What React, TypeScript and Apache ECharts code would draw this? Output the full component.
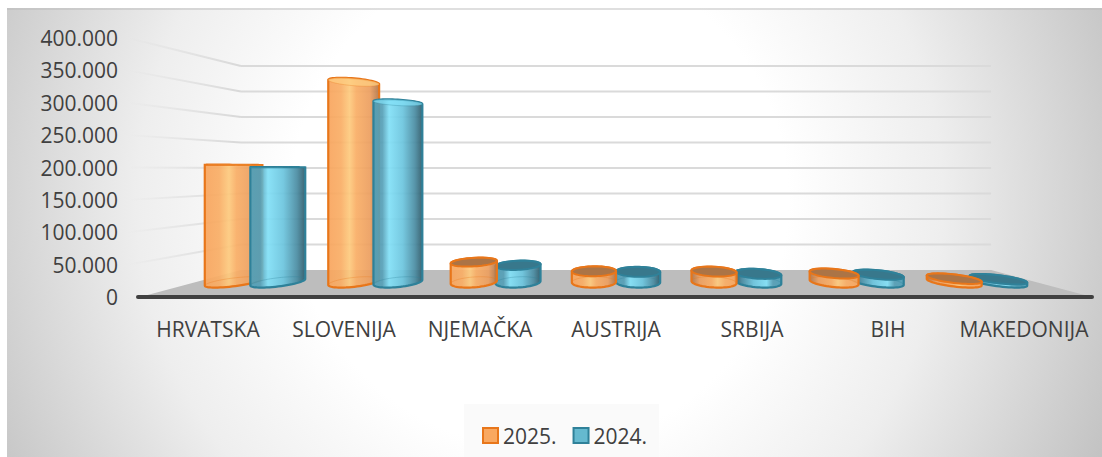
import React, { useEffect, useRef } from "react";
import * as echarts from "echarts";

const categories = ["HRVATSKA", "SLOVENIJA", "NJEMAČKA", "AUSTRIJA", "SRBIJA", "BIH", "MAKEDONIJA"];
const values2025 = [205000, 350000, 35000, 19000, 18500, 15000, 6000];
const values2024 = [201000, 314000, 29500, 18000, 14500, 13000, 5000];
const yMax = 400000;
const yStep = 50000;
const yTicks = [50000, 100000, 150000, 200000, 250000, 300000, 350000, 400000];

const FONT = "'Open Sans', sans-serif";
const VP = { x: 616, y: 170 };
const BACK_Z = 0.269;
const BAR_Z = 0.135;
const RADIUS = 25;
const DEPTH_K = 0.0022;

function project(x: number, y: number, z: number): number[] {
  const s = 1 / (1 + z);
  return [VP.x + (x - VP.x) * s, VP.y + (y - VP.y) * s];
}

function circle(cx: number, y: number): number[][] {
  const pts: number[][] = [];
  for (let i = 0; i < 60; i++) {
    const a = (i / 60) * Math.PI * 2;
    pts.push(project(cx + RADIUS * Math.cos(a), y, BAR_Z + RADIUS * DEPTH_K * Math.sin(a)));
  }
  return pts;
}

function hull(points: number[][]): number[][] {
  const p = [...points].sort((a, b) => a[0] - b[0] || a[1] - b[1]);
  const cross = (o: number[], a: number[], b: number[]) =>
    (a[0] - o[0]) * (b[1] - o[1]) - (a[1] - o[1]) * (b[0] - o[0]);
  const lower: number[][] = [];
  for (const q of p) {
    while (lower.length >= 2 && cross(lower[lower.length - 2], lower[lower.length - 1], q) <= 0) lower.pop();
    lower.push(q);
  }
  const upper: number[][] = [];
  for (let i = p.length - 1; i >= 0; i--) {
    const q = p[i];
    while (upper.length >= 2 && cross(upper[upper.length - 2], upper[upper.length - 1], q) <= 0) upper.pop();
    upper.push(q);
  }
  return lower.slice(0, -1).concat(upper.slice(0, -1));
}

const linear = (stops: [number, string][], mirror: boolean) => ({
  type: "linear",
  x: mirror ? 1 : 0,
  y: 0,
  x2: mirror ? 0 : 1,
  y2: 0,
  colorStops: stops.map(([offset, color]) => ({ offset, color })),
});

const looks = [
  {
    stroke: "#e8761a",
    stops: [
      [0, "#f8a55e"],
      [0.25, "#f9ae66"],
      [0.42, "#fdca7e"],
      [0.55, "#f9ae66"],
      [0.82, "#ec9f60"],
      [1, "#b0764a"],
    ] as [number, string][],
    topDark: "#ab7446",
    topLight: "rgba(254,205,130,0.75)",
    faint: "rgba(232,118,26,0.3)",
  },
  {
    stroke: "#2f8199",
    stops: [
      [0, "#4f9fb8"],
      [0.18, "#569fb6"],
      [0.32, "#82e0f7"],
      [0.6, "#6cc5de"],
      [0.85, "#4a8ca2"],
      [1, "#2f5b6a"],
    ] as [number, string][],
    topDark: "#38788c",
    topLight: "rgba(130,224,247,0.7)",
    faint: "rgba(47,129,153,0.3)",
  },
];

function makeBars(seriesIndex: number) {
  return (params: any, api: any) => {
    const idx = api.value(0);
    const band = api.size([1, 0])[0];
    const offset = seriesIndex === 0 ? -band * 0.184 : band * 0.184;
    const top = api.coord([idx, api.value(1)]);
    const base = api.coord([idx, 0]);
    const cx = base[0] + offset;
    const look = looks[seriesIndex];
    const z2 = seriesIndex === 1 ? 10 : idx <= 1 ? 5 : 15;
    const bottomPts = circle(cx, base[1]);
    const topPts = circle(cx, top[1]);
    const topCenterY = project(cx, top[1], BAR_Z)[1];
    const above = topCenterY < VP.y + 8;
    const outline = hull(bottomPts.concat(topPts));
    return {
      type: "group",
      children: [
        {
          type: "polygon",
          z2,
          silent: true,
          shape: { points: outline },
          style: { fill: linear(look.stops, idx >= 4), opacity: 0.93 },
        },
        {
          type: "polygon",
          z2,
          silent: true,
          shape: { points: outline },
          style: { fill: "rgba(0,0,0,0)", stroke: look.stroke, lineWidth: 2.2 },
        },
        {
          type: "polygon",
          z2,
          silent: true,
          shape: { points: bottomPts },
          style: { fill: "rgba(0,0,0,0)", stroke: look.faint, lineWidth: 1 },
        },
        {
          type: "polygon",
          z2,
          silent: true,
          shape: { points: topPts },
          style: {
            fill: above ? look.topLight : look.topDark,
            stroke: above ? look.faint : look.stroke,
            lineWidth: above ? 1 : 2,
          },
        },
      ],
    };
  };
}

function renderWalls(params: any, api: any) {
  const cs = params.coordSys;
  const y = api.coord([0, api.value(0)])[1];
  const front = [cs.x - 12, y];
  const backL = project(cs.x, y, BACK_Z);
  const backR = project(cs.x + cs.width, y, BACK_Z);
  return {
    type: "group",
    children: [
      {
        type: "line",
        silent: true,
        shape: { x1: backL[0], y1: backL[1], x2: backR[0], y2: backR[1] },
        style: { stroke: "#dadada", lineWidth: 2 },
      },
      {
        type: "line",
        silent: true,
        shape: { x1: project(cs.x - 12, y, 0)[0], y1: y, x2: backL[0], y2: backL[1] },
        style: {
          lineWidth: 2,
          stroke: {
            type: "linear",
            global: true,
            x: front[0],
            y: 0,
            x2: backL[0],
            y2: 0,
            colorStops: [
              { offset: 0, color: "rgba(215,215,215,0)" },
              { offset: 1, color: "#d8d8d8" },
            ],
          },
        },
      },
    ],
  };
}

function renderFloor(params: any, api: any) {
  const cs = params.coordSys;
  const yb = cs.y + cs.height;
  const fl = [cs.x, yb];
  const fr = [cs.x + cs.width, yb];
  const bl = project(cs.x, yb, BACK_Z);
  const br = project(cs.x + cs.width, yb, BACK_Z);
  return {
    type: "group",
    children: [
      {
        type: "polygon",
        silent: true,
        shape: { points: [fl, bl, br, fr] },
        style: { fill: "#bdbdbd" },
      },
      {
        type: "line",
        silent: true,
        shape: { x1: cs.x - 2, y1: yb, x2: cs.x + cs.width, y2: yb },
        style: { stroke: "#404040", lineWidth: 4, lineCap: "round" },
      },
    ],
  };
}

const thousands = (v: number) =>
  v === 0 ? "0" : String(v).replace(/\B(?=(\d{3})+(?!\d))/g, ".");

export default function App() {
  const ref = useRef<HTMLDivElement>(null);
  useEffect(() => {
    document.body.style.margin = "0";
    const chart = echarts.init(ref.current!, undefined, { renderer: "svg" });
    const barData = (vals: number[]) => vals.map((v, i) => [i, v]);
    chart.setOption({
      animation: false,
      textStyle: { fontFamily: FONT },
      graphic: [
        {
          type: "rect",
          z: -10,
          silent: true,
          shape: { x: 7, y: 8, width: 1095, height: 449 },
          style: {
            fill: {
              type: "radial",
              global: true,
              x: 540,
              y: 200,
              r: 620,
              colorStops: [
                { offset: 0, color: "#ffffff" },
                { offset: 0.4, color: "#ffffff" },
                { offset: 0.65, color: "#eeeeee" },
                { offset: 1, color: "#c2c2c2" },
              ],
            },
          },
        },
        {
          type: "rect",
          z: -9,
          silent: true,
          shape: { x: 7, y: 8, width: 1095, height: 2 },
          style: { fill: "#b9b9b9", opacity: 0.45 },
        },
        {
          type: "rect",
          z: -9,
          silent: true,
          shape: { x: 464, y: 404, width: 195, height: 53 },
          style: { fill: "#fafafa" },
        },
      ],
      grid: { left: 140, right: 10, top: 38, height: 259 },
      xAxis: {
        type: "category",
        data: categories,
        axisLine: { show: false },
        axisTick: { show: false },
        axisLabel: { color: "#404040", fontSize: 21, margin: 21, interval: 0, fontFamily: FONT },
      },
      yAxis: {
        type: "value",
        min: 0,
        max: yMax,
        interval: yStep,
        splitLine: { show: false },
        axisLine: { show: false },
        axisTick: { show: false },
        axisLabel: { color: "#404040", fontSize: 21, margin: 22, formatter: thousands, fontFamily: FONT },
      },
      legend: {
        left: 477,
        top: 420,
        padding: 5,
        data: ["2025.", "2024."],
        icon: "rect",
        itemWidth: 15,
        itemHeight: 15,
        itemGap: 16,
        selectedMode: false,
        textStyle: { color: "#404040", fontSize: 21, fontFamily: FONT },
      },
      series: [
        {
          type: "custom",
          name: "walls",
          data: yTicks.map((v) => [v]),
          encode: { y: 0 },
          coordinateSystem: "cartesian2d",
          clip: false,
          silent: true,
          z: 1,
          renderItem: renderWalls,
        },
        {
          type: "custom",
          name: "floor",
          data: [[0, 0]],
          encode: { x: 0, y: 1 },
          coordinateSystem: "cartesian2d",
          clip: false,
          silent: true,
          z: 1,
          renderItem: renderFloor,
        },
        {
          type: "custom",
          name: "2025.",
          data: barData(values2025),
          encode: { x: 0, y: 1 },
          coordinateSystem: "cartesian2d",
          clip: false,
          silent: true,
          z: 3,
          itemStyle: { color: "#f9a860", borderColor: "#e8761a", borderWidth: 2 },
          renderItem: makeBars(0),
        },
        {
          type: "custom",
          name: "2024.",
          data: barData(values2024),
          encode: { x: 0, y: 1 },
          coordinateSystem: "cartesian2d",
          clip: false,
          silent: true,
          z: 3,
          itemStyle: { color: "#65b9cf", borderColor: "#2f8199", borderWidth: 2 },
          renderItem: makeBars(1),
        },
      ],
    });
    return () => chart.dispose();
  }, []);
  return <div ref={ref} style={{ width: 1102, height: 457 }} />;
}
